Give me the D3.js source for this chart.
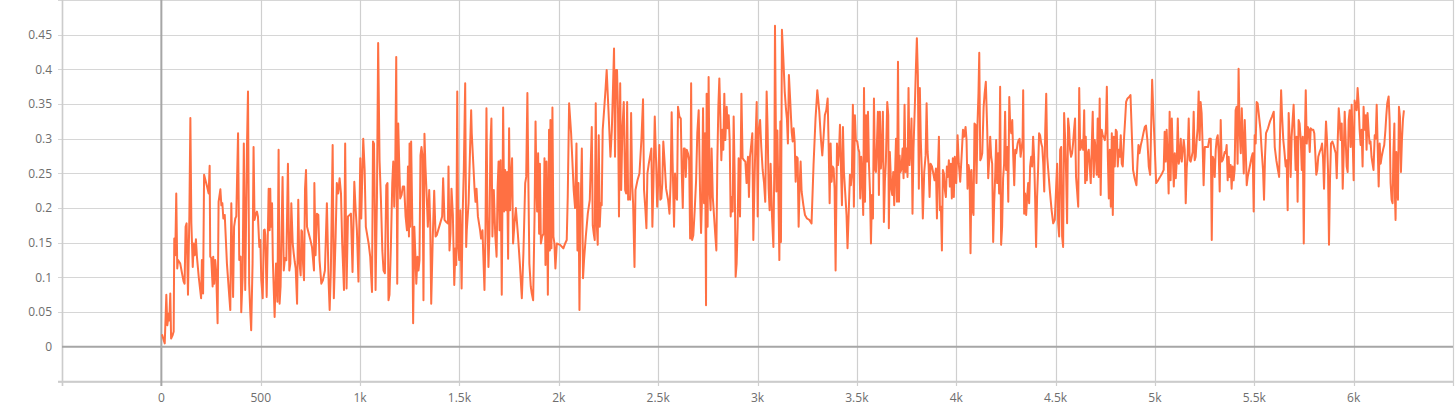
<!DOCTYPE html>
<html>
<head>
<meta charset="utf-8">
<script src="https://d3js.org/d3.v7.min.js"></script>
<style>
  body { margin: 0; background: #fff; }
  text { font-family: "Open Sans", Roboto, sans-serif; font-size: 12px; fill: #6e6e6e; }
</style>
</head>
<body>
<script>

// training steps and scalar values
var steps = [
  3, 17, 25, 30, 37, 40, 45, 49, 57, 62, 65, 70, 75, 80, 84, 95, 104, 112, 117, 122, 127, 134, 141, 146, 151, 158, 163, 168, 174, 179, 188, 200, 204, 210, 215, 230, 238, 243, 246, 251, 258, 261, 266, 271, 276, 283, 288, 297, 302, 307, 312, 319, 330, 342, 347, 352, 361, 366, 372, 377, 386, 392, 399, 402, 409, 415, 422, 431, 436, 442, 447, 452, 459, 464, 469, 476, 481, 486, 493, 498, 503, 510, 516, 520, 523, 530, 540, 545, 548, 551, 557, 561, 570, 577, 584, 590, 595, 600, 610, 616, 622, 629, 637, 644, 649, 654, 661, 666, 671, 676, 683, 689, 694, 701, 705, 708, 713, 718, 723, 728, 733, 750, 758, 768,
  770, 776, 783, 790, 796, 805, 813, 823, 833, 842, 847, 853, 862, 868, 877, 883, 890, 897, 904, 910, 919, 925, 932, 939, 947, 954, 962, 971, 977, 984, 992, 1001, 1006, 1011, 1016, 1023, 1029, 1043, 1051, 1060, 1065, 1070, 1073, 1078, 1085, 1091, 1098, 1105, 1112, 1118, 1125, 1132, 1138, 1143, 1148, 1155, 1162, 1167, 1172, 1177, 1182, 1187, 1192, 1197, 1202, 1209, 1215, 1222, 1229, 1236, 1241, 1246, 1249, 1252, 1257, 1263, 1267, 1273, 1278, 1283, 1289, 1294, 1299, 1304, 1309, 1314, 1319, 1324, 1329, 1336, 1341, 1348, 1353, 1358, 1366, 1373, 1380, 1386, 1403, 1413, 1418, 1425, 1433, 1442, 1445, 1450, 1455, 1460, 1467, 1474, 1480, 1484, 1489, 1494, 1499, 1504, 1511, 1516, 1522, 1529,
  1534, 1537, 1546, 1559, 1562, 1568, 1576, 1581, 1586, 1593, 1604, 1609, 1616, 1621, 1626, 1631, 1636, 1641, 1646, 1651, 1656, 1661, 1666, 1673, 1680, 1687, 1692, 1697, 1702, 1707, 1713, 1720, 1725, 1730, 1735, 1740, 1745, 1750, 1755, 1760, 1765, 1770, 1777, 1784, 1794, 1804, 1814, 1822, 1831, 1836, 1842, 1847, 1852, 1859, 1864, 1871, 1878, 1883, 1888, 1891, 1896, 1901, 1905, 1910, 1916, 1923, 1928, 1933, 1938, 1941, 1945, 1951, 1955, 1958, 1963, 1968, 1973, 1978, 1983, 1990, 2007, 2023, 2032, 2040, 2045, 2052, 2062, 2069, 2075, 2082, 2089, 2094, 2099, 2104, 2109, 2116, 2122, 2127, 2136, 2146, 2156, 2166, 2171, 2176, 2181, 2186, 2191, 2196, 2201, 2206, 2211, 2216, 2221, 2228, 2235, 2241, 2250, 2260, 2267, 2273, 2278, 2283, 2288, 2293, 2298, 2303, 2309, 2314, 2320, 2327,
  2334, 2339, 2344, 2349, 2354, 2359, 2364, 2369, 2374, 2381, 2386, 2396, 2406, 2416, 2424, 2429, 2436, 2441, 2446, 2453, 2459, 2466, 2471, 2476, 2483, 2490, 2495, 2500, 2506, 2511, 2516, 2521, 2526, 2533, 2540, 2550, 2557, 2563, 2568, 2573, 2580, 2585, 2590, 2595, 2600, 2607, 2614, 2619, 2624, 2629, 2634, 2639, 2644, 2650, 2656, 2661, 2666, 2671, 2677, 2684, 2691, 2697, 2704, 2711, 2716, 2721, 2726, 2731, 2736, 2741, 2744, 2749, 2754, 2759, 2764, 2769, 2775, 2781, 2788, 2793, 2798, 2803, 2808, 2813, 2818, 2823, 2828, 2833, 2838, 2845, 2850, 2855, 2860, 2865, 2870, 2875, 2880, 2885, 2890, 2895, 2900, 2905, 2912, 2919, 2925, 2932, 2939, 2945, 2952, 2957, 2962, 2969, 2974, 2979, 2984, 2989, 2996, 3001, 3006, 3013, 3019, 3026, 3033, 3039, 3046, 3051, 3056, 3061, 3066, 3073, 3080, 3085, 3088,
  3095, 3100, 3105, 3110, 3115, 3118, 3123, 3130, 3137, 3143, 3148, 3153, 3158, 3165, 3172, 3177, 3182, 3187, 3192, 3197, 3202, 3207, 3212, 3217, 3222, 3231, 3239, 3249, 3261, 3272, 3282, 3292, 3301, 3311, 3319, 3326, 3333, 3339, 3346, 3353, 3358, 3363, 3368, 3373, 3378, 3383, 3388, 3393, 3400, 3405, 3410, 3415, 3420, 3425, 3430, 3435, 3442, 3448, 3453, 3460, 3465, 3470, 3475, 3480, 3485, 3490, 3495, 3502, 3507, 3512, 3517, 3522, 3527, 3532, 3536, 3541, 3546, 3551, 3556, 3561, 3566, 3571, 3576, 3581, 3586, 3591, 3596, 3601, 3606, 3611, 3616, 3621, 3626, 3631, 3636, 3641, 3646, 3653, 3658, 3661, 3666, 3673, 3678, 3683, 3688, 3692, 3697, 3702, 3707, 3712, 3715, 3720, 3725, 3730, 3735, 3740, 3745, 3750, 3755, 3760, 3765, 3770, 3775, 3780, 3785, 3792, 3797, 3802, 3807, 3812, 3817, 3822, 3827, 3832, 3839, 3846, 3851, 3856, 3861, 3866, 3871, 3878, 3886,
  3891, 3898, 3903, 3908, 3913, 3918, 3923, 3928, 3933, 3938, 3943, 3948, 3953, 3958, 3963, 3968, 3973, 3978, 3983, 3988, 3993, 4000, 4007, 4013, 4020, 4027, 4034, 4040, 4047, 4052, 4057, 4062, 4067, 4072, 4077, 4082, 4087, 4092, 4097, 4102, 4107, 4112, 4116, 4121, 4126, 4131, 4138, 4143, 4149, 4156, 4161, 4166, 4171, 4176, 4181, 4186, 4191, 4196, 4201, 4206, 4211, 4216, 4221, 4226, 4231, 4236, 4241, 4246, 4251, 4257, 4262, 4267, 4272, 4277, 4282, 4287, 4292, 4297, 4302, 4309, 4314, 4319, 4324, 4329, 4334, 4337, 4342, 4347, 4352, 4357, 4362, 4367, 4372, 4377, 4382, 4387, 4392, 4397, 4402, 4407, 4412, 4417, 4422, 4428, 4433, 4438, 4443, 4448, 4453, 4458, 4463, 4471, 4480, 4488, 4496, 4503, 4508, 4513, 4518, 4523, 4528, 4533, 4538, 4543, 4548, 4553, 4558, 4563, 4568, 4573, 4578, 4583, 4588, 4593, 4598, 4603, 4608, 4614, 4619, 4624, 4629, 4634, 4639, 4644, 4649, 4652, 4657, 4662, 4667, 4672,
  4677, 4682, 4687, 4692, 4697, 4702, 4707, 4712, 4717, 4722, 4727, 4732, 4737, 4742, 4748, 4753, 4758, 4763, 4768, 4773, 4778, 4783, 4788, 4793, 4798, 4803, 4808, 4813, 4818, 4823, 4828, 4833, 4838, 4845, 4850, 4855, 4862, 4870, 4877, 4883, 4890, 4898, 4907, 4912, 4917, 4922, 4929, 4935, 4942, 4949, 4955, 4962, 4969, 4976, 4981, 4986, 4992, 4999, 5006, 5016, 5026, 5036, 5044, 5049, 5054, 5059, 5064, 5069, 5074, 5079, 5085, 5090, 5095, 5100, 5105, 5110, 5115, 5120, 5125, 5130, 5135, 5140, 5145, 5150, 5155, 5160, 5165, 5170, 5175, 5180, 5185, 5190, 5195, 5200, 5205, 5210, 5215, 5220, 5225, 5230, 5235, 5240, 5245, 5251, 5259, 5267, 5274, 5281, 5286, 5291, 5296, 5301, 5306, 5311, 5316, 5321, 5326, 5331, 5336, 5341, 5346, 5351, 5356, 5361, 5366, 5371, 5376, 5381, 5386, 5391, 5396, 5401, 5406, 5411, 5416, 5421, 5426, 5432, 5437, 5442, 5447,
  5452, 5457, 5462, 5467, 5474, 5480, 5487, 5492, 5497, 5502, 5507, 5512, 5517, 5524, 5531, 5537, 5544, 5549, 5554, 5559, 5569, 5579, 5589, 5598, 5603, 5611, 5619, 5625, 5630, 5635, 5640, 5646, 5651, 5658, 5663, 5668, 5673, 5678, 5683, 5688, 5693, 5698, 5703, 5708, 5713, 5718, 5723, 5728, 5734, 5739, 5744, 5749, 5754, 5759, 5764, 5769, 5774, 5779, 5784, 5790, 5797, 5802, 5807, 5812, 5817, 5822, 5829, 5836, 5841, 5846, 5851, 5856, 5861, 5866, 5871, 5876, 5881, 5886, 5893, 5899, 5905, 5910, 5915, 5920, 5925, 5930, 5935, 5940, 5945, 5950, 5955, 5960, 5965, 5970, 5975, 5980, 5985, 5990, 5995, 6000, 6005, 6010, 6015, 6020, 6025, 6030, 6035, 6040, 6045, 6050, 6055, 6061, 6065, 6070, 6075, 6080, 6085, 6090, 6095, 6100, 6106, 6111, 6116, 6121, 6126, 6131, 6136, 6141, 6148, 6154, 6160, 6164, 6169, 6176, 6181, 6186, 6191, 6196, 6200, 6205, 6208, 6211, 6215, 6218, 6223, 6228, 6233, 6238, 6243, 6248, 6253
];

var values = [
  .018, .005, .075, .031, .048, .038, .077, .012, .017, .022, .156, .132, .221, .113, .125, .12, .106, .094, .091, .173, .178, .075, .19, .33, .178, .115, .149, .132, .155, .13, .101, .07, .125, .077, .248, .231, .221, .261, .13, .128, .087, .13, .091, .125, .108, .034, .209, .227, .204, .207, .185, .19, .12, .072, .053, .207, .072, .173, .185, .188, .308, .125, .13, .05, .101, .293, .082, .291, .368, .091, .053, .024, .12, .288, .183, .192, .195, .188, .144, .154, .096, .07, .168, .169, .161, .072, .228, .168, .228, .173, .207, .125, .043, .12, .065, .284, .062, .087, .245, .11, .128, .125, .264, .11, .12, .207, .149, .135, .123, .113, .062, .212, .125, .103, .168, .166, .12, .096, .228, .255, .173, .154, .144, .11,
  .236, .132, .192, .19, .125, .091, .096, .11, .207, .091, .053, .11, .291, .07, .159, .236, .221, .243, .221, .149, .082, .293, .084, .188, .19, .192, .108, .238, .202, .168, .094, .272, .185, .245, .3, .255, .173, .149, .13, .079, .296, .293, .226, .082, .216, .438, .269, .212, .139, .11, .106, .233, .236, .067, .075, .144, .236, .267, .202, .255, .418, .091, .322, .264, .214, .219, .231, .231, .188, .168, .26, .159, .293, .173, .296, .178, .034, .173, .135, .091, .13, .11, .125, .276, .288, .276, .067, .307, .26, .212, .173, .226, .178, .062, .159, .225, .159, .161, .178, .188, .243, .183, .18, .178, .26, .139, .163, .228, .19, .089, .142, .118, .368, .144, .125, .197, .084, .188, .255, .38,
  .144, .168, .207, .341, .308, .274, .228, .209, .228, .188, .168, .156, .168, .125, .082, .163, .344, .188, .115, .163, .291, .329, .159, .226, .163, .13, .228, .267, .168, .269, .075, .345, .195, .255, .197, .252, .127, .315, .197, .245, .272, .149, .178, .2, .163, .12, .07, .135, .236, .245, .366, .236, .12, .087, .077, .067, .188, .325, .226, .195, .279, .163, .264, .149, .159, .163, .272, .118, .267, .202, .075, .313, .139, .327, .142, .345, .159, .149, .113, .149, .147, .142, .149, .154, .216, .351, .308, .264, .226, .2, .293, .139, .236, .053, .188, .286, .099, .125, .159, .192, .212, .317, .175, .163, .154, .351, .178, .147, .305, .173, .207, .204, .313, .341, .37, .399, .341, .274, .313, .375, .43, .274, .399, .399, .341, .188, .38, .226, .313, .353,
  .226, .221, .353, .212, .216, .212, .337, .236, .207, .115, .226, .24, .25, .3, .357, .226, .197, .171, .25, .264, .274, .286, .173, .231, .332, .264, .202, .236, .291, .212, .214, .236, .296, .264, .228, .212, .192, .24, .338, .264, .173, .25, .216, .212, .346, .332, .329, .25, .2, .286, .286, .245, .284, .279, .269, .156, .38, .154, .161, .197, .24, .308, .341, .221, .164, .216, .344, .207, .308, .06, .365, .173, .389, .226, .197, .286, .216, .19, .159, .139, .269, .346, .387, .332, .269, .313, .284, .365, .298, .346, .315, .334, .298, .188, .216, .195, .332, .25, .101, .12, .173, .272, .188, .365, .272, .269, .267, .236, .274, .216, .274, .293, .308, .154, .226, .288, .353, .188, .313, .327, .288, .255, .236, .209, .368, .313, .228, .197, .264, .188, .144, .269, .463,
  .224, .312, .224, .125, .325, .151, .457, .416, .368, .344, .329, .293, .392, .353, .31, .296, .315, .296, .238, .274, .272, .173, .233, .267, .224, .204, .19, .185, .183, .178, .262, .329, .37, .339, .3, .276, .305, .334, .341, .358, .291, .207, .293, .238, .26, .257, .228, .11, .293, .262, .281, .32, .257, .204, .317, .252, .219, .19, .142, .202, .248, .233, .25, .349, .202, .334, .298, .296, .286, .281, .214, .274, .243, .19, .373, .209, .334, .267, .339, .262, .224, .149, .219, .185, .358, .257, .252, .293, .339, .219, .339, .257, .281, .339, .18, .238, .267, .353, .334, .171, .281, .228, .219, .252, .204, .248, .3, .209, .411, .209, .276, .252, .257, .286, .243, .349, .252, .286, .245, .373, .262, .286, .329, .192, .286, .349, .401, .445, .392, .228, .373, .296, .252, .185, .252, .276, .351, .281, .262, .216, .264, .26, .248,
  .24, .257, .185, .255, .303, .197, .202, .139, .255, .25, .226, .216, .26, .245, .269, .231, .264, .214, .272, .216, .274, .236, .305, .264, .238, .274, .313, .303, .317, .298, .228, .262, .252, .135, .255, .197, .19, .322, .32, .236, .32, .365, .424, .269, .272, .279, .346, .365, .382, .313, .243, .269, .303, .274, .264, .151, .207, .245, .298, .236, .279, .221, .375, .147, .173, .243, .264, .339, .255, .288, .209, .36, .317, .308, .327, .274, .233, .284, .279, .293, .298, .3, .274, .286, .298, .37, .192, .221, .19, .216, .236, .207, .26, .274, .26, .303, .274, .216, .144, .216, .255, .308, .305, .293, .288, .264, .224, .313, .365, .274, .255, .226, .197, .178, .183, .231, .264, .178, .159, .284, .288, .159, .144, .337, .301, .25, .178, .329, .315, .284, .274, .279, .293, .313, .329, .245, .226, .202, .373, .284, .288, .298, .284, .341, .236, .303, .24, .279, .284, .26,
  .236, .288, .339, .245, .298, .284, .248, .329, .245, .358, .219, .313, .305, .303, .298, .313, .375, .274, .214, .284, .202, .308, .19, .303, .26, .313, .31, .26, .284, .274, .305, .264, .26, .303, .327, .353, .358, .36, .363, .313, .255, .243, .233, .264, .291, .279, .291, .298, .308, .317, .319, .298, .26, .248, .317, .385, .337, .288, .236, .24, .245, .25, .255, .31, .267, .313, .276, .221, .339, .24, .329, .274, .231, .279, .243, .269, .329, .264, .274, .3, .267, .281, .298, .284, .207, .257, .279, .329, .269, .267, .274, .281, .339, .269, .274, .298, .315, .368, .298, .353, .337, .291, .233, .288, .288, .288, .3, .3, .154, .274, .269, .245, .284, .3, .305, .279, .224, .327, .267, .269, .274, .281, .279, .291, .24, .274, .245, .262, .228, .26, .24, .255, .341, .346, .264, .401, .313, .279, .344, .298, .25,
  .327, .284, .233, .245, .255, .264, .274, .279, .195, .305, .293, .353, .351, .332, .313, .284, .255, .212, .274, .308, .315, .325, .332, .339, .288, .269, .255, .245, .313, .37, .332, .298, .284, .26, .269, .197, .337, .301, .245, .303, .327, .349, .303, .255, .303, .209, .327, .322, .298, .255, .303, .149, .293, .37, .293, .317, .313, .281, .315, .313, .313, .308, .279, .248, .255, .274, .281, .286, .293, .272, .228, .284, .325, .298, .255, .147, .24, .293, .296, .291, .284, .279, .243, .298, .344, .325, .298, .322, .228, .279, .339, .298, .26, .252, .327, .341, .288, .349, .298, .24, .355, .346, .341, .373, .351, .313, .291, .313, .26, .346, .313, .334, .284, .337, .313, .293, .296, .274, .264, .255, .305, .3, .349, .288, .231, .293, .264, .274, .284, .291, .313, .332, .351, .361, .327, .236, .212, .207, .279, .322, .216, .183, .281, .24, .212, .346, .332, .252, .298, .327, .341
];

var xTicks = [-500, 0, 500, 1000, 1500, 2000, 2500, 3000, 3500, 4000, 4500, 5000, 5500, 6000, 6500];
var yTicks = [-0.05, 0, 0.05, 0.1, 0.15, 0.2, 0.25, 0.3, 0.35, 0.4, 0.45, 0.5];

var width = 1455,
    height = 405;

var x = d3.scaleLinear().domain([-500, 6500]).range([62, 1453]);
var y = d3.scaleLinear().domain([-0.05, 0.5]).range([381.5, 0]);

var svg = d3.select('body').append('svg')
    .attr('width', width)
    .attr('height', height);

// grid (the lines run a few px past the axes as tick stubs)
svg.append('g').selectAll('line')
    .data(yTicks.filter(function(d) { return d !== 0; }))
  .enter().append('line')
    .attr('x1', 58).attr('x2', 1453)
    .attr('y1', function(d) { return Math.round(y(d)) + 0.5; })
    .attr('y2', function(d) { return Math.round(y(d)) + 0.5; })
    .attr('stroke', '#d6d6d6')
    .attr('stroke-width', 1.2);

svg.append('g').selectAll('line')
    .data(xTicks.filter(function(d) { return d !== 0; }))
  .enter().append('line')
    .attr('x1', function(d) { return Math.round(x(d)) + 0.5; })
    .attr('x2', function(d) { return Math.round(x(d)) + 0.5; })
    .attr('y1', 0).attr('y2', 386)
    .attr('stroke', '#cfcfcf')
    .attr('stroke-width', 1.2);

// axis lines
svg.append('line')
    .attr('x1', 58).attr('x2', 1453)
    .attr('y1', 381.5).attr('y2', 381.5)
    .attr('stroke', '#cccccc').attr('stroke-width', 1.5);
svg.append('line')
    .attr('x1', 62.5).attr('x2', 62.5)
    .attr('y1', 0).attr('y2', 386)
    .attr('stroke', '#cccccc').attr('stroke-width', 1.5);

// zero lines
svg.append('line')
    .attr('x1', 62).attr('x2', 1453)
    .attr('y1', y(0)).attr('y2', y(0))
    .attr('stroke', '#a6a6a6').attr('stroke-width', 2);
svg.append('line')
    .attr('x1', x(0)).attr('x2', x(0))
    .attr('y1', 0).attr('y2', 386)
    .attr('stroke', '#a6a6a6').attr('stroke-width', 2);

// tick labels
function fmtX(d) { return d >= 1000 ? (d / 1000) + 'k' : String(d); }

svg.append('g').selectAll('text')
    .data(xTicks.filter(function(d) { return d >= 0 && d <= 6000; }))
  .enter().append('text')
    .attr('x', function(d) { return x(d); })
    .attr('y', 402)
    .attr('text-anchor', 'middle')
    .text(fmtX);

svg.append('g').selectAll('text')
    .data(yTicks.filter(function(d) { return d >= 0 && d <= 0.45; }))
  .enter().append('text')
    .attr('x', 52)
    .attr('y', function(d) { return y(d); })
    .attr('dy', '0.35em')
    .attr('text-anchor', 'end')
    .text(function(d) { return d3.format('~g')(+d.toFixed(2)); });

// the series
var data = steps.map(function(s, i) { return {step: s, value: values[i]}; });

var line = d3.line()
    .x(function(d) { return x(d.step); })
    .y(function(d) { return y(d.value); });

svg.append('path')
    .datum(data)
    .attr('d', line)
    .attr('fill', 'none')
    .attr('stroke', '#ff7043')
    .attr('stroke-width', 2)
    .attr('stroke-linejoin', 'round');

</script>
</body>
</html>
